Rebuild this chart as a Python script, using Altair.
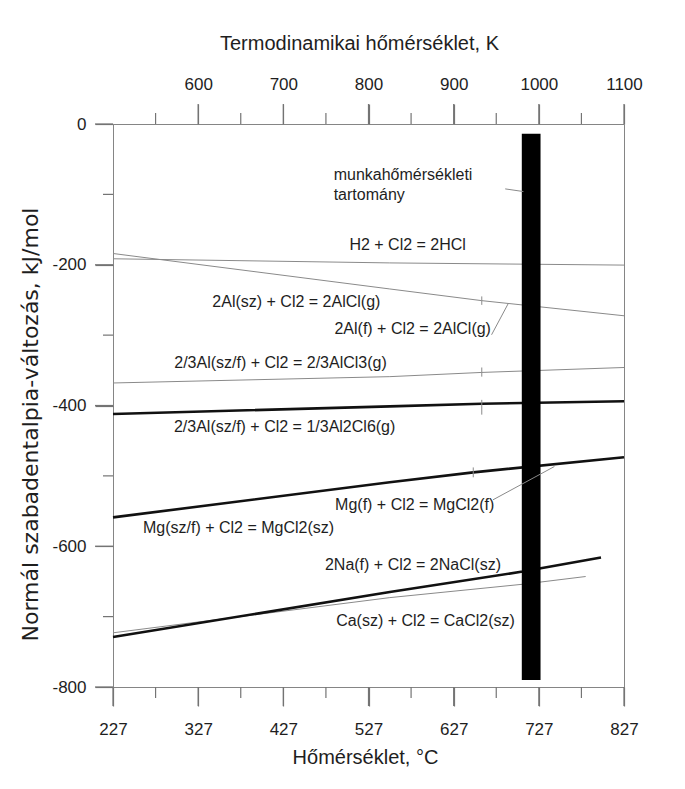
import altair as alt
import pandas as pd

# ---------------- data ----------------
# temperatures in degC, free enthalpy change in kJ/mol
hcl_T = [227, 552, 827]
hcl_G = [-191.5, -197.4, -200.5]
alcl_T = [227, 552, 660, 827]
alcl_G = [-184, -234.4, -251, -272.5]
alcl3_T = [227, 552, 660, 827]
alcl3_G = [-368, -359, -353, -346]
al2cl6_T = [227, 552, 660, 827]
al2cl6_G = [-412, -401.3, -397.5, -394]
mg_T = [227, 552, 650, 827]
mg_G = [-559, -509, -495, -473.5]
na_T = [227, 552, 708, 800]
na_G = [-729, -665, -636, -616]
ca_T = [227, 552, 708, 782]
ca_G = [-723, -673, -654, -643]

# melting-point marks on the curves
melt_T = [660, 660, 660, 650]
melt_G1 = [-245, -346, -392, -488]
melt_G2 = [-257, -359, -413, -502]

# leader lines from labels to curves / bar
lead_T1 = [687.5, 671.5, 673.2]
lead_G1 = [-92.2, -299.5, -534]
lead_T2 = [708.9, 691, 745.3]
lead_G2 = [-96, -255.3, -486.7]

# working-temperature range bar
bar_T = [707, 729]
bar_G = [-14, -790]

# reaction labels
label_text = [
    "H2 + Cl2 = 2HCl",
    "2Al(sz) + Cl2 = 2AlCl(g)",
    "2Al(f) + Cl2 = 2AlCl(g)",
    "2/3Al(sz/f) + Cl2 = 2/3AlCl3(g)",
    "2/3Al(sz/f) + Cl2 = 1/3Al2Cl6(g)",
    "Mg(f) + Cl2 = MgCl2(f)",
    "Mg(sz/f) + Cl2 = MgCl2(sz)",
    "2Na(f) + Cl2 = 2NaCl(sz)",
    "Ca(sz) + Cl2 = CaCl2(sz)",
]
label_T = [573, 442.3, 578.9, 423.7, 428.5, 581.2, 374.4, 579.2, 593.9]
label_G = [-172.4, -252.9, -291.3, -339.6, -431, -541.2, -574.3, -626.5, -706.2]

range_text = ["munkahőmérsékleti", "tartomány"]
range_T = [486.1, 486.1]
range_G = [-71.8, -100.3]

x_major = [227, 327, 427, 527, 627, 727, 827]
x_minor = [277, 377, 477, 577, 677, 777]
y_major = [0, -200, -400, -600, -800]
y_minor = [-100, -300, -500, -700]

# ---------------- layout / style ----------------
W, H = 511, 563
X_DOM = [227, 827]
Y_DOM = [-800, 0]
PX_X = (X_DOM[1] - X_DOM[0]) / W   # data units per pixel
PX_Y = (Y_DOM[1] - Y_DOM[0]) / H
TICK_MAJOR_X, TICK_MINOR_X = 19, 11    # bottom ticks (px)
TICK_MAJOR_TOP, TICK_MINOR_TOP = 20, 11
TICK_MAJOR_Y, TICK_MINOR_Y = 18, 10

FONT = "Liberation Sans"
TXT = "#1e1e1e"
AX = "#858585"
TICK = "#747474"

# ---------------- tables ----------------
def series(name, T, G):
    return pd.DataFrame({"reaction": name, "T": T, "G": G})

thin = pd.concat([
    series("HCl", hcl_T, hcl_G),
    series("AlCl", alcl_T, alcl_G),
    series("AlCl3", alcl3_T, alcl3_G),
    series("CaCl2", ca_T, ca_G),
])
thick = pd.concat([
    series("Al2Cl6", al2cl6_T, al2cl6_G),
    series("MgCl2", mg_T, mg_G),
    series("NaCl", na_T, na_G),
])
segs = pd.DataFrame({
    "T1": lead_T1 + melt_T,
    "G1": lead_G1 + melt_G1,
    "T2": lead_T2 + melt_T,
    "G2": lead_G2 + melt_G2,
})
bar = pd.DataFrame({"T1": [bar_T[0]], "T2": [bar_T[1]], "G1": [bar_G[0]], "G2": [bar_G[1]]})
labels = pd.DataFrame({"text": label_text, "T": label_T, "G": label_G})
rng = pd.DataFrame({"text": range_text, "T": range_T, "G": range_G})

# axis tick marks (major and minor), placed through the scales
tick_rows = []
for v in x_major:
    tick_rows.append((v, v, Y_DOM[0], Y_DOM[0] - TICK_MAJOR_X * PX_Y))
for v in x_minor:
    tick_rows.append((v, v, Y_DOM[0], Y_DOM[0] - TICK_MINOR_X * PX_Y))
for v in x_major[1:]:
    tick_rows.append((v, v, Y_DOM[1], Y_DOM[1] + TICK_MAJOR_TOP * PX_Y))
for v in x_minor:
    tick_rows.append((v, v, Y_DOM[1], Y_DOM[1] + TICK_MINOR_TOP * PX_Y))
for v in y_major:
    tick_rows.append((X_DOM[0], X_DOM[0] - TICK_MAJOR_Y * PX_X, v, v))
for v in y_minor:
    tick_rows.append((X_DOM[0], X_DOM[0] - TICK_MINOR_Y * PX_X, v, v))
ticks = pd.DataFrame(tick_rows, columns=["T1", "T2", "G1", "G2"])

X = alt.Scale(domain=X_DOM, nice=False, zero=False)
Y = alt.Scale(domain=Y_DOM, nice=False, zero=False)

common = dict(domain=False, grid=False, ticks=True, tickColor=TICK, tickWidth=1.2,
              labelFlush=False, labelOverlap=False)

ax_bottom = alt.Axis(orient="bottom", values=x_major, tickSize=TICK_MAJOR_X,
                     labelFont=FONT, labelFontSize=17, labelColor=TXT,
                     labelBaseline="alphabetic", labelPadding=28,
                     labelExpr="'' + datum.value",
                     title="Hőmérséklet,  °C", titleFont=FONT, titleFontSize=20,
                     titleFontWeight="normal", titleColor=TXT,
                     titleX=252, titleY=76, titleAlign="center",
                     titleBaseline="alphabetic", **common)
ax_top = alt.Axis(orient="top", values=x_major[1:], tickSize=TICK_MAJOR_TOP,
                  labelFont=FONT, labelFontSize=17, labelColor=TXT,
                  labelBaseline="alphabetic", labelPadding=15,
                  labelExpr="'' + (datum.value + 273)",
                  title="Termodinamikai hőmérséklet, K", titleFont=FONT,
                  titleFontSize=20, titleFontWeight="normal", titleColor=TXT,
                  titleX=246, titleY=-75, titleAlign="center",
                  titleBaseline="alphabetic", **common)
ax_left = alt.Axis(orient="left", values=y_major, tickSize=TICK_MAJOR_Y,
                   labelFont=FONT, labelFontSize=17, labelColor=TXT,
                   labelAlign="right", labelBaseline="middle", labelPadding=9,
                   labelExpr="'' + datum.value",
                   title="Normál szabadentalpia-változás, kJ/mol",
                   titleFont="DejaVu Sans", titleFontSize=22,
                   titleFontWeight="normal", titleColor=TXT, titleAngle=270,
                   titleX=-83, titleY=300, titleAlign="center",
                   titleBaseline="middle", **common)

thin_layer = alt.Chart(thin).mark_line(color="#8a8a8a", strokeWidth=1).encode(
    x=alt.X("T:Q", scale=X, axis=ax_bottom),
    y=alt.Y("G:Q", scale=Y, axis=ax_left),
    detail="reaction:N",
)
thick_layer = alt.Chart(thick).mark_line(color="#111111", strokeWidth=2.6).encode(
    x=alt.X("T:Q", scale=X, axis=None),
    y=alt.Y("G:Q", scale=Y, axis=None),
    detail="reaction:N",
)
bar_layer = alt.Chart(bar).mark_rect(color="#000000").encode(
    x=alt.X("T1:Q", scale=X, axis=ax_top),
    x2="T2:Q",
    y=alt.Y("G1:Q", scale=Y, axis=None),
    y2="G2:Q",
)
seg_layer = alt.Chart(segs).mark_rule(color="#8a8a8a", strokeWidth=1).encode(
    x=alt.X("T1:Q", scale=X, axis=None),
    x2="T2:Q",
    y=alt.Y("G1:Q", scale=Y, axis=None),
    y2="G2:Q",
)
tick_layer = alt.Chart(ticks).mark_rule(color=TICK, strokeWidth=1.2, clip=False).encode(
    x=alt.X("T1:Q", scale=X, axis=None),
    x2="T2:Q",
    y=alt.Y("G1:Q", scale=Y, axis=None),
    y2="G2:Q",
)
label_layer = alt.Chart(labels).mark_text(
    font=FONT, fontSize=16, color=TXT, align="center", baseline="middle"
).encode(
    x=alt.X("T:Q", scale=X, axis=None),
    y=alt.Y("G:Q", scale=Y, axis=None),
    text="text:N",
)
range_layer = alt.Chart(rng).mark_text(
    font=FONT, fontSize=16, color=TXT, align="left", baseline="middle"
).encode(
    x=alt.X("T:Q", scale=X, axis=None),
    y=alt.Y("G:Q", scale=Y, axis=None),
    text="text:N",
)

chart = alt.layer(
    tick_layer, thin_layer, thick_layer, bar_layer, seg_layer, label_layer, range_layer
).resolve_axis(x="independent", y="independent").properties(
    width=W, height=H,
    autosize=alt.AutoSizeParams(type="none"),
    padding={"left": 105, "top": 116, "right": 50, "bottom": 80},
    background="white",
).configure_view(stroke=AX, strokeWidth=1)

chart.save("out.html", embed_options={"renderer": "svg", "actions": False})
